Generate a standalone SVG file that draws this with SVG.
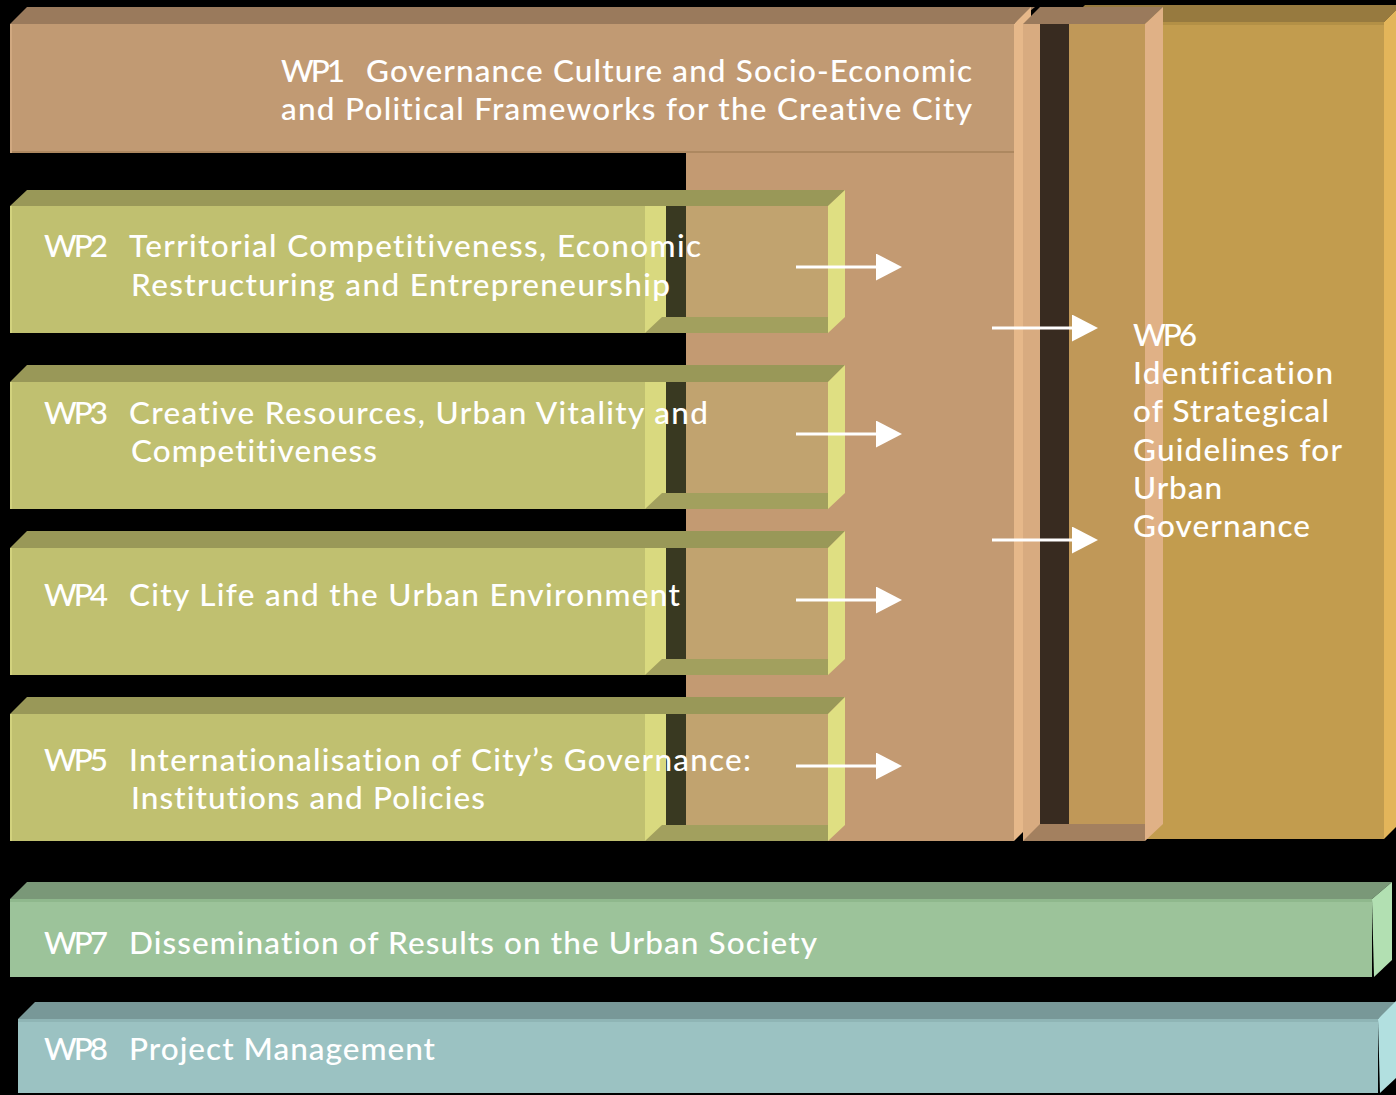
<svg xmlns="http://www.w3.org/2000/svg" width="1396" height="1095" viewBox="0 0 1396 1095">
  <style>
    .t { font-family: Lato, "Liberation Sans", sans-serif; font-size: 31.5px; font-weight: 500; fill: #ffffff; font-variant-ligatures: none; font-feature-settings: "liga" 0, "clig" 0; }
    .wp1-top { fill: #9a7a5c; }
    .wp1-face { fill: #c19a73; }
    .wp1-col { fill: #c39a72; }
    .wp1-side { fill: #e6b88a; }
    .wp1-edge { fill: #ad8860; }
    .g-top { fill: #977a3f; }
    .g-face { fill: #c29c4e; }
    .g-side { fill: #e3b55a; }
    .in-top { fill: #9a7a5c; }
    .in-left { fill: #d8ab80; }
    .in-dark { fill: #382b20; }
    .in-face { fill: #c09858; }
    .in-bot { fill: #a3805f; }
    .in-side { fill: #e0b186; }
    .o-top { fill: #999858; }
    .o-face { fill: #c0c070; }
    .o-edge { fill: #d2d27e; }
    .o-light { fill: #d9d97f; }
    .o-dark { fill: #393921; }
    .o-glass { fill: #c1a36f; }
    .o-bot { fill: #a2a05e; }
    .o-side { fill: #dfdf82; }
    .gr-top { fill: #7a9878; }
    .gr-face { fill: #9cc39a; }
    .gr-side { fill: #b2e0b2; }
    .bl-top { fill: #789898; }
    .bl-face { fill: #9bc2c2; }
    .bl-side { fill: #b2e0e0; }
    .arrow { stroke: #ffffff; stroke-width: 3; fill: none; marker-end: url(#head); }
  </style>
  <defs>
    <marker id="head" markerUnits="userSpaceOnUse" markerWidth="26" markerHeight="27" refX="0" refY="13.5" orient="auto">
      <path d="M0,0 L26,13.5 L0,27 Z" fill="#ffffff"/>
    </marker>
  </defs>

  <rect x="0" y="0" width="1396" height="1095" fill="#000000"/>

  <!-- WP6: outer gold block -->
  <g id="wp6">
    <polygon class="g-top" points="1068,22 1085,5 1401,5 1384,22"/>
    <rect class="g-face" x="1068" y="22" width="316" height="817"/>
    <rect x="1068" y="22" width="316" height="3" fill="#b39046"/>
    <polygon class="g-side" points="1384,22 1401,5 1401,822 1384,839"/>
  </g>

  <!-- WP1: top band with a column running down behind WP2-WP5 -->
  <g id="wp1">
    <polygon class="wp1-top" points="10,24 27,7 1035,7 1014,24"/>
    <rect class="wp1-face" x="10" y="24" width="1004" height="129"/>
    <rect class="wp1-col" x="686" y="153" width="328" height="688"/>
    <rect class="wp1-edge" x="10" y="151" width="1008" height="2"/>
    <rect x="10" y="24" width="2" height="129" fill="#d0a880"/>
    <polygon class="wp1-side" points="1014,24 1031,7 1031,824 1014,841"/>
    <text class="t" x="281" y="82" textLength="64">WP1</text>
    <text class="t" x="366" y="82" textLength="606">Governance Culture and Socio-Economic</text>
    <text class="t" x="281" y="120" textLength="691">and Political Frameworks for the Creative City</text>
  </g>

  <!-- WP6: inner box and label -->
  <g id="wp6-inner">
    <polygon class="in-top" points="1023,24 1040,7 1163,7 1145,24"/>
    <rect class="in-left" x="1023" y="24" width="17" height="817"/>
    <rect class="in-dark" x="1040" y="24" width="29" height="800"/>
    <rect class="in-face" x="1069" y="24" width="76" height="800"/>
    <polygon class="in-bot" points="1023,841 1040,824 1145,824 1145,841"/>
    <polygon class="in-side" points="1145,24 1163,7 1163,824 1145,841"/>
    <text class="t" x="1133" y="346" textLength="64">WP6</text>
    <text class="t" x="1133" y="384" textLength="200">Identification</text>
    <text class="t" x="1133" y="422" textLength="196">of Strategical</text>
    <text class="t" x="1133" y="461" textLength="209">Guidelines for</text>
    <text class="t" x="1133" y="499" textLength="89">Urban</text>
    <text class="t" x="1133" y="537" textLength="177">Governance</text>
  </g>

  <!-- WP2 -->
  <g id="wp2">
    <polygon class="o-top" points="10,206 27,190 845,190 828,206"/>
    <rect class="o-face" x="10" y="206" width="635" height="127"/>
    <rect class="o-edge" x="10" y="206" width="2" height="127"/>
    <rect class="o-light" x="645" y="206" width="21" height="127"/>
    <rect class="o-dark" x="666" y="206" width="20" height="111"/>
    <rect class="o-glass" x="686" y="206" width="142" height="111"/>
    <polygon class="o-bot" points="645,333 662,317 828,317 828,333"/>
    <polygon class="o-side" points="828,206 845,190 845,317 828,333"/>
    <text class="t" x="44" y="257" textLength="64">WP2</text>
    <text class="t" x="129" y="257" textLength="572">Territorial Competitiveness, Economic</text>
    <text class="t" x="131" y="296" textLength="539">Restructuring and Entrepreneurship</text>
  </g>

  <!-- WP3 -->
  <g id="wp3">
    <polygon class="o-top" points="10,382 27,365 845,365 828,382"/>
    <rect class="o-face" x="10" y="382" width="635" height="127"/>
    <rect class="o-edge" x="10" y="382" width="2" height="127"/>
    <rect class="o-light" x="645" y="382" width="21" height="127"/>
    <rect class="o-dark" x="666" y="382" width="20" height="111"/>
    <rect class="o-glass" x="686" y="382" width="142" height="111"/>
    <polygon class="o-bot" points="645,509 662,493 828,493 828,509"/>
    <polygon class="o-side" points="828,382 845,365 845,493 828,509"/>
    <text class="t" x="44" y="424" textLength="64">WP3</text>
    <text class="t" x="129" y="424" textLength="579">Creative Resources, Urban Vitality and</text>
    <text class="t" x="131" y="462" textLength="246">Competitiveness</text>
  </g>

  <!-- WP4 -->
  <g id="wp4">
    <polygon class="o-top" points="10,548 27,531 845,531 828,548"/>
    <rect class="o-face" x="10" y="548" width="635" height="127"/>
    <rect class="o-edge" x="10" y="548" width="2" height="127"/>
    <rect class="o-light" x="645" y="548" width="21" height="127"/>
    <rect class="o-dark" x="666" y="548" width="20" height="111"/>
    <rect class="o-glass" x="686" y="548" width="142" height="111"/>
    <polygon class="o-bot" points="645,675 662,659 828,659 828,675"/>
    <polygon class="o-side" points="828,548 845,531 845,659 828,675"/>
    <text class="t" x="44" y="606" textLength="64">WP4</text>
    <text class="t" x="129" y="606" textLength="551">City Life and the Urban Environment</text>
  </g>

  <!-- WP5 -->
  <g id="wp5">
    <polygon class="o-top" points="10,714 27,697 845,697 828,714"/>
    <rect class="o-face" x="10" y="714" width="635" height="127"/>
    <rect class="o-edge" x="10" y="714" width="2" height="127"/>
    <rect class="o-light" x="645" y="714" width="21" height="127"/>
    <rect class="o-dark" x="666" y="714" width="20" height="111"/>
    <rect class="o-glass" x="686" y="714" width="142" height="111"/>
    <polygon class="o-bot" points="645,841 662,825 828,825 828,841"/>
    <polygon class="o-side" points="828,714 845,697 845,825 828,841"/>
    <text class="t" x="44" y="771" textLength="64">WP5</text>
    <text class="t" x="129" y="771" textLength="622">Internationalisation of City’s Governance:</text>
    <text class="t" x="131" y="809" textLength="354">Institutions and Policies</text>
  </g>

  <!-- connectors -->
  <g id="connectors">
    <line class="arrow" x1="796" y1="267" x2="876" y2="267"/>
    <line class="arrow" x1="796" y1="434" x2="876" y2="434"/>
    <line class="arrow" x1="796" y1="600" x2="876" y2="600"/>
    <line class="arrow" x1="796" y1="766" x2="876" y2="766"/>
    <line class="arrow" x1="992" y1="328" x2="1072" y2="328"/>
    <line class="arrow" x1="992" y1="540" x2="1072" y2="540"/>
  </g>

  <!-- WP7 -->
  <g id="wp7">
    <polygon class="gr-top" points="10,899 27,882 1392,882 1372,899"/>
    <rect class="gr-face" x="10" y="899" width="1362" height="78"/>
    <rect x="10" y="899" width="1362" height="3" fill="#8fb88d"/>
    <polygon class="gr-side" points="1372,899 1392,882 1392,960 1374,977"/>
    <text class="t" x="44" y="954" textLength="64">WP7</text>
    <text class="t" x="129" y="954" textLength="688">Dissemination of Results on the Urban Society</text>
  </g>

  <!-- WP8 -->
  <g id="wp8">
    <polygon class="bl-top" points="18,1019 35,1002 1400,1002 1378,1019"/>
    <rect class="bl-face" x="18" y="1019" width="1360" height="74"/>
    <rect x="18" y="1019" width="1360" height="3" fill="#8fb5b5"/>
    <polygon class="bl-side" points="1378,1019 1396,1001 1396,1078 1380,1093"/>
    <text class="t" x="44" y="1060" textLength="64">WP8</text>
    <text class="t" x="129" y="1060" textLength="306">Project Management</text>
  </g>
</svg>
